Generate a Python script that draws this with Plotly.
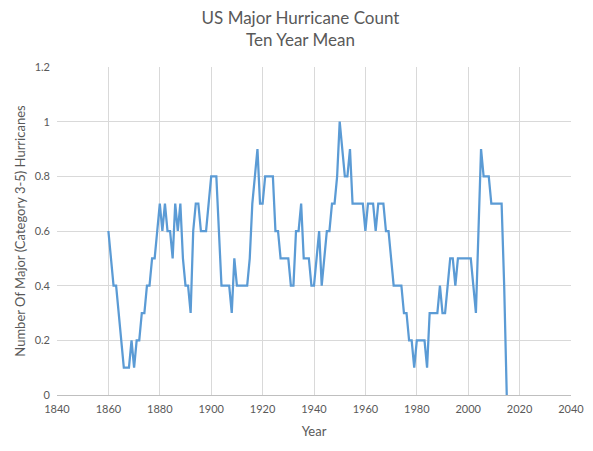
import plotly.graph_objects as go

# ten year mean of US major hurricanes
years = list(range(1860, 2016))

mean_1860s = [0.6, 0.5, 0.4, 0.4, 0.3, 0.2, 0.1, 0.1, 0.1, 0.2]
mean_1870s = [0.1, 0.2, 0.2, 0.3, 0.3, 0.4, 0.4, 0.5, 0.5, 0.6]
mean_1880s = [0.7, 0.6, 0.7, 0.6, 0.6, 0.5, 0.7, 0.6, 0.7, 0.5]
mean_1890s = [0.4, 0.4, 0.3, 0.6, 0.7, 0.7, 0.6, 0.6, 0.6, 0.7]
mean_1900s = [0.8, 0.8, 0.8, 0.6, 0.4, 0.4, 0.4, 0.4, 0.3, 0.5]
mean_1910s = [0.4, 0.4, 0.4, 0.4, 0.4, 0.5, 0.7, 0.8, 0.9, 0.7]
mean_1920s = [0.7, 0.8, 0.8, 0.8, 0.8, 0.6, 0.6, 0.5, 0.5, 0.5]
mean_1930s = [0.5, 0.4, 0.4, 0.6, 0.6, 0.7, 0.5, 0.5, 0.5, 0.4]
mean_1940s = [0.4, 0.5, 0.6, 0.4, 0.5, 0.6, 0.6, 0.7, 0.7, 0.8]
mean_1950s = [1.0, 0.9, 0.8, 0.8, 0.9, 0.7, 0.7, 0.7, 0.7, 0.7]
mean_1960s = [0.6, 0.7, 0.7, 0.7, 0.6, 0.7, 0.7, 0.7, 0.6, 0.6]
mean_1970s = [0.5, 0.4, 0.4, 0.4, 0.4, 0.3, 0.3, 0.2, 0.2, 0.1]
mean_1980s = [0.2, 0.2, 0.2, 0.2, 0.1, 0.3, 0.3, 0.3, 0.3, 0.4]
mean_1990s = [0.3, 0.3, 0.4, 0.5, 0.5, 0.4, 0.5, 0.5, 0.5, 0.5]
mean_2000s = [0.5, 0.5, 0.4, 0.3, 0.6, 0.9, 0.8, 0.8, 0.8, 0.7]
mean_2010s = [0.7, 0.7, 0.7, 0.7, 0.4, 0.0]

ten_year_mean = (mean_1860s + mean_1870s + mean_1880s + mean_1890s + mean_1900s
                 + mean_1910s + mean_1920s + mean_1930s + mean_1940s + mean_1950s
                 + mean_1960s + mean_1970s + mean_1980s + mean_1990s + mean_2000s
                 + mean_2010s)

GREY_TEXT = "#595959"
GRID = "#d9d9d9"

fig = go.Figure()
fig.add_trace(go.Scatter(x=years, y=ten_year_mean, mode="lines",
                         line=dict(color="#5b9bd5", width=2.25), showlegend=False))

# page body keeps its 8px default margin, so the figure is 8px smaller than the window
fig.update_layout(
    width=585, height=443,
    margin=dict(l=49, r=22, t=59, b=56, autoexpand=False),
    paper_bgcolor="white", plot_bgcolor="white",
    font=dict(family="Lato", size=11, color=GREY_TEXT),
    title=dict(text="US Major Hurricane Count<br>Ten Year Mean",
               x=0.5, xanchor="center", y=0.964, yanchor="top",
               font=dict(family="Lato", size=17, color=GREY_TEXT)),
    xaxis=dict(title=dict(text="Year", standoff=12), range=[1840, 2040], dtick=20,
               tick0=1840, showgrid=True, gridcolor=GRID, gridwidth=1,
               showline=True, linecolor="#bfbfbf", zeroline=False, ticks="",
               automargin=False, ticklabelstandoff=4),
    yaxis=dict(title=dict(text="Number Of Major (Category 3-5) Hurricanes", standoff=6),
               range=[0, 1.2], dtick=0.2, tick0=0, showgrid=True, gridcolor=GRID,
               gridwidth=1, zeroline=False, showline=False, ticks="",
               automargin=False, ticklabelstandoff=6),
)

fig.write_html("out.html")
